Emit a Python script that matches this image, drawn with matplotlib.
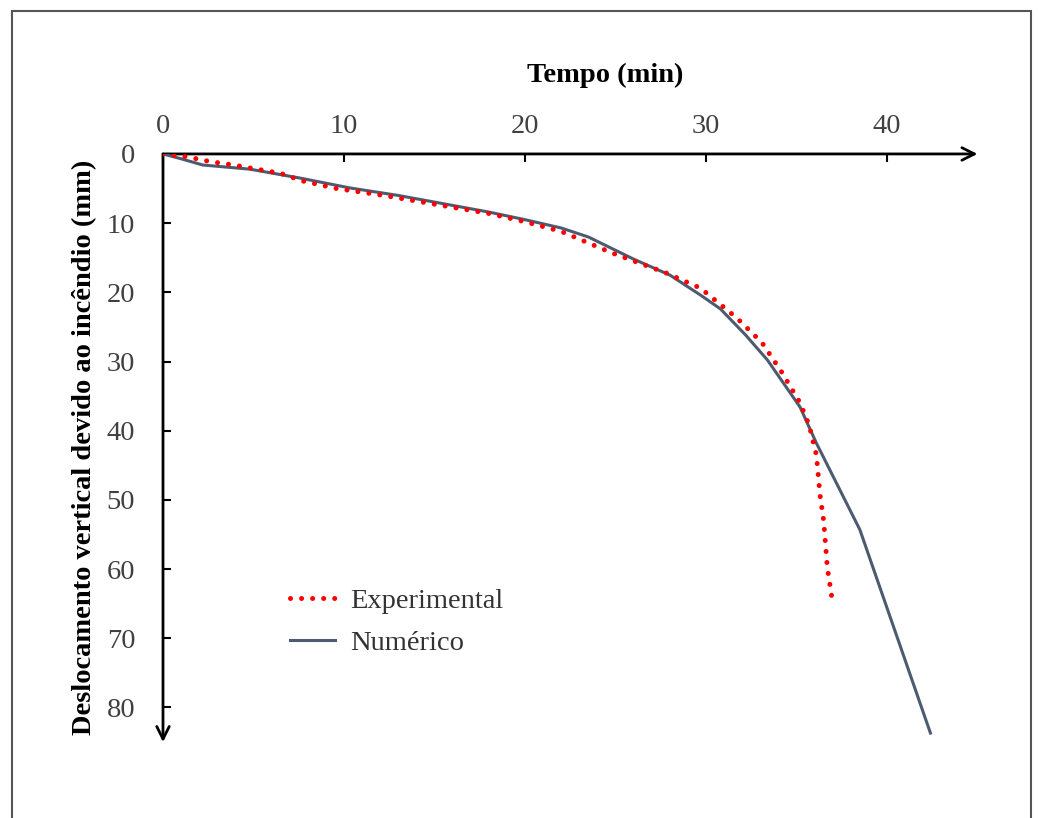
import numpy as np
import matplotlib.pyplot as plt
from matplotlib.patches import Rectangle

# tempo (min) e deslocamento (mm)
t_exp = [0, 1.3, 2.6, 3.9, 5.2, 6.5, 7.7, 9.6, 12.2, 15.3, 18, 20, 22, 24.8,
         27.8, 29.7, 31.7, 33.1, 34.2, 35.2, 35.7, 36.1, 36.3, 36.5, 36.7, 37.0]
d_exp = [0, 0.4, 1.1, 1.6, 2.2, 2.8, 3.9, 5.0, 6.0, 7.4, 8.6, 9.8, 11.2, 14.3,
         17.2, 19.4, 23.7, 27.3, 31.6, 36.0, 39.2, 43.5, 49.3, 53.0, 59.7, 64.9]

t_num = [0, 1, 2.2, 4.8, 7.6, 10.3, 13, 15.3, 18, 20, 22, 23.5, 26, 28,
         29.7, 30.8, 32.2, 33.4, 35.2, 36.1, 38.5, 42.4]
d_num = [0, 0.7, 1.6, 2.2, 3.5, 4.9, 6.0, 7.1, 8.4, 9.5, 10.7, 12.0, 15.2,
         17.5, 20.4, 22.4, 26.2, 29.8, 36.6, 41.8, 54.3, 83.7]

x_ticks = [0, 10, 20, 30, 40]
y_ticks = [0, 10, 20, 30, 40, 50, 60, 70, 80]

plt.rcParams['font.family'] = ['Liberation Serif', 'DejaVu Serif']

W, H = 1038, 818
fig = plt.figure(figsize=(W / 100, H / 100), dpi=100)

# moldura externa
fig.patches.append(Rectangle((12 / W, -0.1), (1031 - 12) / W, 1 - 11 / H + 0.1,
                             transform=fig.transFigure, fill=False,
                             edgecolor='#555555', linewidth=1.5))

ax = fig.add_axes([163 / W, 0.0928, 814.5 / W, 0.719])
ax.set_xlim(0, 45)
ax.set_ylim(85, 0)
for s in ax.spines.values():
    s.set_visible(False)

# eixos com setas
arrow = dict(arrowstyle='->,head_length=0.9,head_width=0.45', color='black', lw=2,
             shrinkA=0, shrinkB=0)
ax.annotate('', xy=(45, 0), xytext=(0, 0), arrowprops=arrow, annotation_clip=False)
ax.annotate('', xy=(0, 85), xytext=(0, 0), arrowprops=arrow, annotation_clip=False)

ax.plot(t_num, d_num, color='#4d5b70', lw=2.2, label='Numérico', zorder=3)
ax.plot(t_exp, d_exp, color='#ff0000', lw=3.6, linestyle=(0, (0.01, 2.2)),
        dash_capstyle='round', label='Experimental', zorder=4)

ax.xaxis.tick_top()
ax.set_xticks(x_ticks)
ax.set_yticks(y_ticks)
ax.tick_params(axis='x', direction='in', length=6, width=1.5, pad=11,
               labelsize=20.5, labelcolor='#404040')
ax.tick_params(axis='y', direction='in', length=6, width=1.5, pad=20,
               labelsize=20.5, labelcolor='#404040')

fig.text(605 / W, 1 - 75 / H, 'Tempo (min)', ha='center', va='center',
         fontsize=20.5, fontweight='bold')
fig.text(85 / W, 1 - 447 / H, 'Deslocamento vertical devido ao incêndio (mm)',
         ha='center', va='center', rotation=90, fontsize=20.5, fontweight='bold')

h, l = ax.get_legend_handles_labels()
leg = ax.legend(h[::-1], l[::-1], loc='upper left', bbox_to_anchor=(0.156, 0.262),
                frameon=False, fontsize=20.5, handlelength=1.58, handletextpad=0.52,
                labelspacing=0.58, borderpad=0, borderaxespad=0)
for txt in leg.get_texts():
    txt.set_color('#333333')

fig.savefig('out.png', dpi=100)
